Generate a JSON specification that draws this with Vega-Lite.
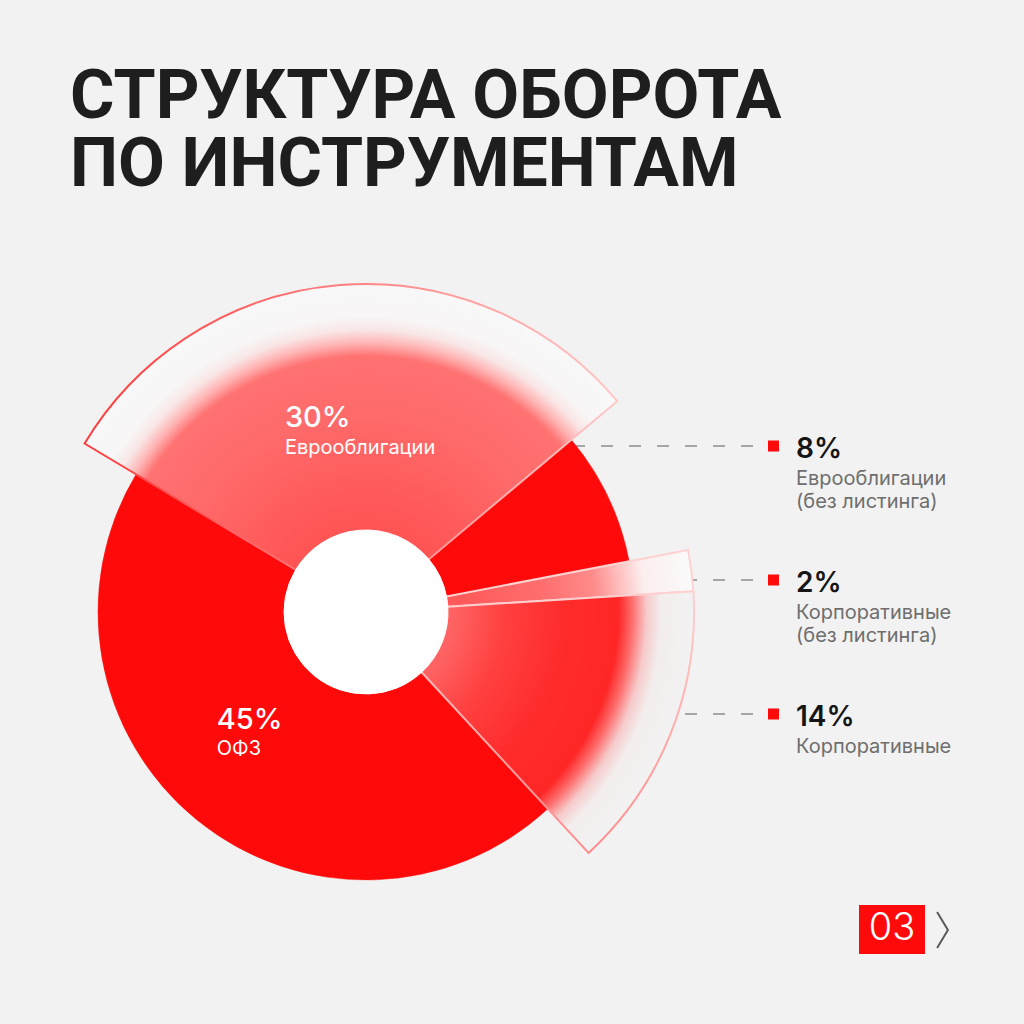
{
  "$schema": "https://vega.github.io/schema/vega-lite/v6.json",
  "width": 1024,
  "height": 1024,
  "autosize": {"type": "none"},
  "padding": 0,
  "background": "#f2f2f2",
  "config": {"view": {"stroke": null}, "font": "Inter"},
  "title": {
    "text": ["СТРУКТУРА ОБОРОТА", "ПО ИНСТРУМЕНТАМ"],
    "anchor": "start",
    "frame": "group",
    "font": "Roboto",
    "fontSize": 68,
    "fontWeight": 700,
    "lineHeight": 68,
    "color": "#1e1e1e",
    "offset": -200,
    "dx": 70
  },
  "data": {
    "values": [
      {"name": "Еврооблигации (без листинга)", "value": 8, "pct": "8%", "desc": "Еврооблигации\n(без листинга)"},
      {"name": "Корпоративные (без листинга)", "value": 2, "pct": "2%", "desc": "Корпоративные\n(без листинга)"},
      {"name": "Корпоративные", "value": 14, "pct": "14%", "desc": "Корпоративные"},
      {"name": "ОФЗ", "value": 45, "pct": "45%", "desc": "ОФЗ"},
      {"name": "Еврооблигации", "value": 30, "pct": "30%", "desc": "Еврооблигации"}
    ]
  },
  "transform": [{"stack": "value", "groupby": [], "as": ["start", "end"]}],
  "layer": [
    {
      "transform": [{"filter": {"field": "name", "oneOf": ["Еврооблигации (без листинга)", "Корпоративные (без листинга)", "Корпоративные"]}}],
      "encoding": {
        "y": {"field": "name", "type": "nominal", "axis": null,
              "scale": {"type": "point", "domain": ["Еврооблигации (без листинга)", "Корпоративные (без листинга)", "Корпоративные"], "range": [446, 714], "padding": 0}}
      },
      "layer": [
        {
          "mark": {"type": "rule", "color": "#8c8c8c", "strokeWidth": 1.5, "strokeDash": [12, 16]},
          "encoding": {
            "x": {"datum": 3.87, "type": "quantitative", "axis": null, "scale": {"domain": [-3.66, 6.58], "nice": false, "zero": false}},
            "x2": {"datum": 0}
          }
        },
        {
          "mark": {"type": "point", "shape": "square", "filled": true, "size": 121, "color": "#ff0a0a", "opacity": 1},
          "encoding": {
            "x": {"datum": 4.075, "type": "quantitative", "axis": null, "scale": {"domain": [-3.66, 6.58], "nice": false, "zero": false}}
          }
        },
        {
          "mark": {"type": "text", "align": "left", "baseline": "alphabetic", "dy": 12, "font": "Inter", "fontSize": 28, "fontWeight": 600, "color": "#151515"},
          "encoding": {
            "x": {"datum": 4.3, "type": "quantitative", "axis": null, "scale": {"domain": [-3.66, 6.58], "nice": false, "zero": false}},
            "text": {"field": "pct"}
          }
        },
        {
          "mark": {"type": "text", "align": "left", "baseline": "alphabetic", "dy": 39, "font": "Inter", "fontSize": 20, "fontWeight": 400, "lineBreak": "\n", "lineHeight": 23, "color": "#6e6e6e"},
          "encoding": {
            "x": {"datum": 4.3, "type": "quantitative", "axis": null, "scale": {"domain": [-3.66, 6.58], "nice": false, "zero": false}},
            "text": {"field": "desc"}
          }
        }
      ]
    },
    {
      "encoding": {
        "x": {"datum": 0, "type": "quantitative", "axis": null, "scale": {"domain": [-3.66, 6.58], "nice": false, "zero": false}},
        "y": {"datum": 0, "type": "quantitative", "axis": null, "scale": {"domain": [-4.12, 6.12], "nice": false, "zero": false}}
      },
      "layer": [
        {
          "mark": {"type": "arc", "outerRadius": 268, "innerRadius": 0, "fill": "#ff0a0a", "stroke": "#ff0a0a", "strokeWidth": 0.5},
          "encoding": {
            "theta": {"field": "start", "type": "quantitative", "scale": {"domain": [0, 99], "range": [0.872665, 7.155850]}},
            "theta2": {"field": "end"}
          }
        },
        {
          "transform": [{"filter": "datum.name === 'Еврооблигации'"}],
          "mark": {
            "type": "arc", "outerRadius": 328, "innerRadius": 0, "strokeWidth": 2,
            "fill": {"gradient": "radial", "x1": 0.5283, "y1": 0.8079, "r1": 0, "x2": 0.5283, "y2": 0.8079, "r2": 0.6158,
              "stops": [
                {"offset": 0, "color": "#ff4c4c"},
                {"offset": 0.3, "color": "#ff5656"},
                {"offset": 0.6, "color": "#ff6a6a"},
                {"offset": 0.78, "color": "#ff7272"},
                {"offset": 0.82, "color": "#ffb4b4"},
                {"offset": 0.86, "color": "#f9e6e6"},
                {"offset": 0.9, "color": "#f8f6f6"},
                {"offset": 1, "color": "#f8f8f8"}
              ]},
            "stroke": {"gradient": "linear", "x1": 0, "y1": 0.5, "x2": 1, "y2": 0.5,
              "stops": [{"offset": 0, "color": "#ff3b3b"}, {"offset": 1, "color": "#ffc8c8"}]}
          },
          "encoding": {
            "theta": {"field": "start", "type": "quantitative", "scale": {"domain": [0, 99], "range": [0.872665, 7.155850]}},
            "theta2": {"field": "end"}
          }
        },
        {
          "transform": [{"filter": "datum.name === 'Корпоративные (без листинга)'"}],
          "mark": {
            "type": "arc", "outerRadius": 328, "innerRadius": 0, "strokeWidth": 2, "stroke": "#ffd2d2",
            "fill": {"gradient": "radial", "x1": 0, "y1": 0.5948, "r1": 0, "x2": 0, "y2": 0.5948, "r2": 1.002,
              "stops": [
                {"offset": 0, "color": "#ff5050"},
                {"offset": 0.3, "color": "#ff5a5a"},
                {"offset": 0.55, "color": "#ff6f6f"},
                {"offset": 0.7, "color": "#ff8c8c"},
                {"offset": 0.78, "color": "#ffc0c0"},
                {"offset": 0.85, "color": "#fbeeee"},
                {"offset": 1, "color": "#fafafa"}
              ]}
          },
          "encoding": {
            "theta": {"field": "start", "type": "quantitative", "scale": {"domain": [0, 99], "range": [0.872665, 7.155850]}},
            "theta2": {"field": "end"}
          }
        },
        {
          "transform": [{"filter": "datum.name === 'Корпоративные'"}],
          "mark": {
            "type": "arc", "outerRadius": 328, "innerRadius": 0, "strokeWidth": 2,
            "fill": {"gradient": "radial", "x1": 0, "y1": 0.1644, "r1": 0, "x2": 0, "y2": 0.1644, "r2": 1.0,
              "stops": [
                {"offset": 0, "color": "#ff6a6a"},
                {"offset": 0.27, "color": "#ff6262"},
                {"offset": 0.42, "color": "#ff4040"},
                {"offset": 0.6, "color": "#ff2c2c"},
                {"offset": 0.77, "color": "#ff2626"},
                {"offset": 0.81, "color": "#ff6a6a"},
                {"offset": 0.855, "color": "#f6caca"},
                {"offset": 0.9, "color": "#f3eded"},
                {"offset": 1, "color": "#f2f2f2"}
              ]},
            "stroke": {"gradient": "linear", "x1": 0.5, "y1": 0, "x2": 0.5, "y2": 1,
              "stops": [{"offset": 0, "color": "#ffd0d0"}, {"offset": 1, "color": "#ff8a8a"}]}
          },
          "encoding": {
            "theta": {"field": "start", "type": "quantitative", "scale": {"domain": [0, 99], "range": [0.872665, 7.155850]}},
            "theta2": {"field": "end"}
          }
        },
        {
          "mark": {"type": "arc", "outerRadius": 82, "innerRadius": 0, "fill": "#ffffff", "stroke": "#ffffff", "strokeWidth": 1},
          "encoding": {
            "theta": {"field": "start", "type": "quantitative", "scale": {"domain": [0, 99], "range": [0.872665, 7.155850]}},
            "theta2": {"field": "end"}
          }
        },
        {
          "mark": {"type": "text", "radius": 190, "align": "left", "baseline": "alphabetic", "dx": -66, "dy": 4, "font": "Inter", "fontSize": 29, "fontWeight": 500, "color": "#ffffff"},
          "encoding": {
            "theta": {"field": "value", "type": "quantitative", "stack": true, "scale": {"domain": [0, 99], "range": [0.872665, 7.155850]}},
            "order": {"field": "start", "type": "quantitative"},
            "text": {"condition": {"test": "datum.name === 'Еврооблигации'", "field": "pct"}, "value": ""}
          }
        },
        {
          "mark": {"type": "text", "radius": 190, "align": "left", "baseline": "alphabetic", "dx": -66, "dy": 31, "font": "Inter", "fontSize": 20, "fontWeight": 400, "color": "#ffffff"},
          "encoding": {
            "theta": {"field": "value", "type": "quantitative", "stack": true, "scale": {"domain": [0, 99], "range": [0.872665, 7.155850]}},
            "order": {"field": "start", "type": "quantitative"},
            "text": {"condition": {"test": "datum.name === 'Еврооблигации'", "field": "desc"}, "value": ""}
          }
        },
        {
          "mark": {"type": "text", "radius": 170, "align": "left", "baseline": "alphabetic", "dx": -42, "dy": -15, "font": "Inter", "fontSize": 29, "fontWeight": 500, "color": "#ffffff"},
          "encoding": {
            "theta": {"field": "value", "type": "quantitative", "stack": true, "scale": {"domain": [0, 99], "range": [0.872665, 7.155850]}},
            "order": {"field": "start", "type": "quantitative"},
            "text": {"condition": {"test": "datum.name === 'ОФЗ'", "field": "pct"}, "value": ""}
          }
        },
        {
          "mark": {"type": "text", "radius": 170, "align": "left", "baseline": "alphabetic", "dx": -42, "dy": 11, "font": "Inter", "fontSize": 20, "fontWeight": 400, "color": "#ffffff"},
          "encoding": {
            "theta": {"field": "value", "type": "quantitative", "stack": true, "scale": {"domain": [0, 99], "range": [0.872665, 7.155850]}},
            "order": {"field": "start", "type": "quantitative"},
            "text": {"condition": {"test": "datum.name === 'ОФЗ'", "field": "desc"}, "value": ""}
          }
        },
        {
          "data": {"values": [{"page": "03"}]},
          "mark": {"type": "rect", "color": "#ff0a0a"},
          "encoding": {
            "x": {"datum": 4.93, "type": "quantitative"},
            "x2": {"datum": 5.59},
            "y": {"datum": -2.93, "type": "quantitative"},
            "y2": {"datum": -3.42}
          }
        },
        {
          "data": {"values": [{"page": "03"}]},
          "mark": {"type": "text", "align": "center", "baseline": "middle", "font": "Inter", "fontSize": 38, "fontWeight": 300, "color": "#ffffff"},
          "encoding": {
            "x": {"datum": 5.26, "type": "quantitative"},
            "y": {"datum": -3.17, "type": "quantitative"},
            "text": {"field": "page"}
          }
        },
        {
          "data": {"values": [{"page": "03"}]},
          "mark": {"type": "point", "shape": "M-0.3,-1L0.3,0L-0.3,1", "filled": false, "size": 1300, "color": "#5a5a5a", "strokeWidth": 2, "opacity": 1},
          "encoding": {
            "x": {"datum": 5.765, "type": "quantitative"},
            "y": {"datum": -3.18, "type": "quantitative"}
          }
        }
      ]
    }
  ],
  "resolve": {"scale": {"y": "independent"}}
}
